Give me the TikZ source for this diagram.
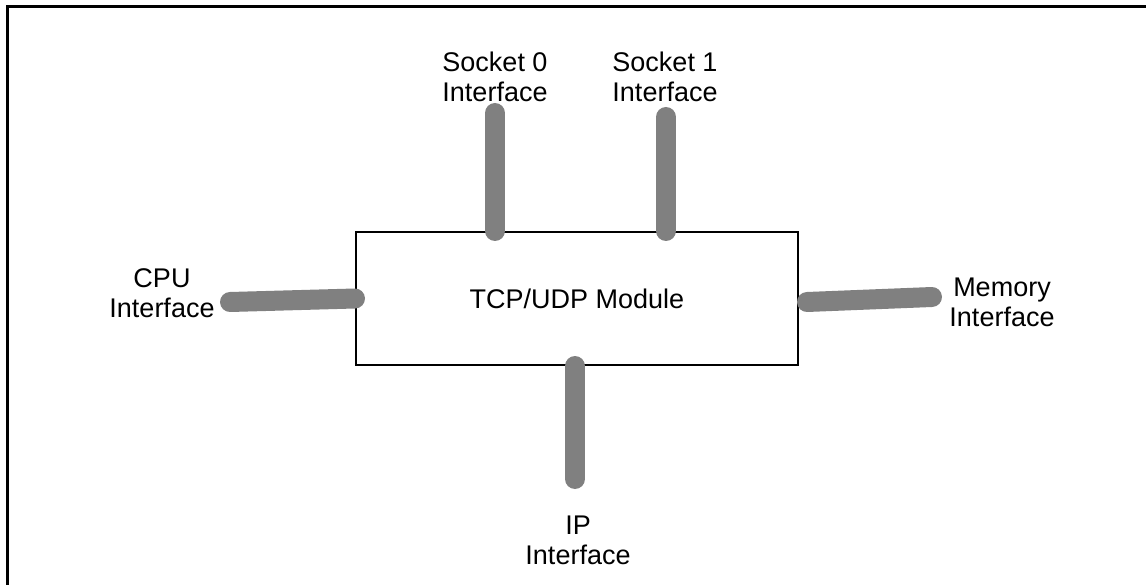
\documentclass[tikz,border=0pt]{standalone}
\usepackage{fontspec}
\setmainfont{Liberation Sans}
\usetikzlibrary{positioning}

\begin{document}
\begin{tikzpicture}[x=1pt,y=-1pt,
        bus/.style={draw=gray,line width=20pt,line cap=round},
        lbl/.style={align=center,inner sep=0pt,font=\fontsize{27}{30}\selectfont},
        module/.style={draw,line width=2pt,minimum width=442pt,minimum height=133pt,
          font=\fontsize{27}{30}\selectfont}]

  \useasboundingbox (0,0) rectangle (1146,585);
  \draw[line width=3pt] (7,585) -- (7,7) -- (1146,7);

  \node[module] (tcp) at (577,298.5) {TCP/UDP Module};

  \coordinate (cpu) at (230,302);
  \coordinate (mem) at (932,297);
  \coordinate (s0) at (495,113);
  \coordinate (s1) at (666,117);
  \coordinate (ip) at (575,479);
  \coordinate (memin) at ([xshift=8pt,yshift=-3.5pt]tcp.east);

  \node[lbl] (cpulbl) at (162,293) {CPU\\Interface};
  \node[lbl] (memlbl) at (1002,302) {Memory\\Interface};
  \node[lbl] (s0lbl) at (495,77) {Socket 0\\Interface};
  \node[lbl] (s1lbl) at (665,77) {Socket 1\\Interface};
  \node[lbl] (iplbl) at (578,540) {IP\\Interface};

  \path (cpu) edge[bus] (tcp.west)
        (memin) edge[bus] (mem)
        (s0) edge[bus] (s0 |- tcp.north)
        (s1) edge[bus] (s1 |- tcp.north)
        (ip) edge[bus] (ip |- tcp.south);

\end{tikzpicture}
\end{document}
